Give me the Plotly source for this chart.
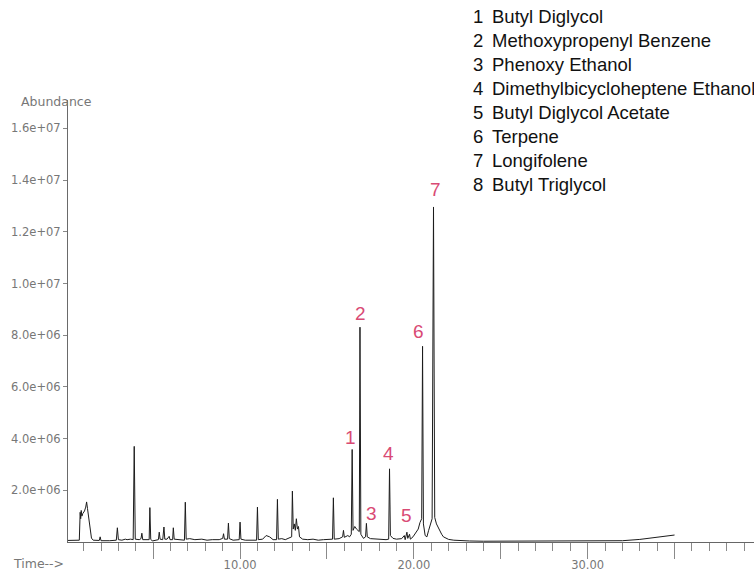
import plotly.graph_objects as go

# ---------------- data ----------------
# retention time (min) and abundance (millions of counts)
rt = [0.05, 0.5, 0.75, 0.8, 0.83, 0.86, 0.9, 0.95, 1.05, 1.12, 1.17, 1.22, 1.3, 1.38, 1.45, 1.55,
      1.9, 1.95, 2.0, 2.5, 2.88, 2.94, 3.0, 3.2, 3.4, 3.5, 3.7, 3.85, 3.91, 3.97,
      4.2, 4.3, 4.35, 4.4, 4.6, 4.77, 4.81, 4.86, 4.95, 5.1, 5.3, 5.35, 5.4, 5.55, 5.62, 5.67,
      5.8, 5.92, 5.97, 6.12, 6.16, 6.21, 6.4, 6.8, 6.85, 6.9, 7.1, 7.4, 7.8, 8.1, 8.4, 8.8,
      9.0, 9.05, 9.1, 9.28, 9.33, 9.38, 9.6, 9.95, 10.0, 10.05, 10.3, 10.6, 10.95, 11.0, 11.05,
      11.3, 11.5, 11.7, 11.9, 12.1, 12.15, 12.2, 12.4, 12.6, 12.8, 12.97, 13.01, 13.06, 13.12,
      13.18, 13.24, 13.3, 13.36, 13.42, 13.6, 13.9, 14.2, 14.5, 14.8, 15.1, 15.32, 15.37, 15.42,
      15.7, 15.9, 15.95, 16.0, 16.2, 16.3, 16.4, 16.45, 16.5, 16.6, 16.7, 16.8, 16.86, 16.9, 16.95,
      17.1, 17.22, 17.27, 17.32, 17.5, 17.8, 18.1, 18.4, 18.55, 18.6, 18.65, 18.8, 19.0, 19.3,
      19.45, 19.5, 19.6, 19.65, 19.75, 19.8, 19.95, 20.1, 20.25, 20.35, 20.45, 20.5, 20.55, 20.65,
      20.75, 20.85, 20.95, 21.05, 21.13, 21.2, 21.3, 21.4, 21.5, 21.6, 21.7, 21.85, 22.0, 22.3,
      22.7, 23.2, 24.0, 26.0, 28.0, 30.0, 32.0, 33.0, 33.8, 34.5, 35.0]
abund_m = [0.06, 0.05, 0.07, 1.15, 0.9, 1.22, 1.0, 1.1, 1.2, 1.35, 1.55, 1.3, 0.9, 0.45, 0.15, 0.07,
           0.06, 0.2, 0.05, 0.05, 0.07, 0.55, 0.09, 0.07, 0.11, 0.09, 0.11, 0.09, 3.7, 0.11,
           0.09, 0.13, 0.34, 0.09, 0.09, 0.09, 1.33, 0.11, 0.04, 0.07, 0.09, 0.38, 0.11, 0.09, 0.58, 0.11,
           0.11, 0.22, 0.09, 0.09, 0.55, 0.11, 0.09, 0.07, 1.54, 0.11, 0.13, 0.09, 0.11, 0.07, 0.09, 0.09,
           0.14, 0.32, 0.11, 0.11, 0.73, 0.13, 0.07, 0.09, 0.77, 0.11, 0.07, 0.06, 0.07, 1.35, 0.09,
           0.11, 0.25, 0.2, 0.09, 0.09, 1.65, 0.11, 0.13, 0.09, 0.14, 0.2, 1.97, 0.5, 0.7,
           0.45, 0.9, 0.5, 0.6, 0.2, 0.11, 0.09, 0.11, 0.07, 0.09, 0.11, 0.11, 1.71, 0.11,
           0.13, 0.2, 0.45, 0.18, 0.25, 0.2, 0.3, 3.58, 0.45, 0.6, 0.5, 0.45, 0.4, 8.31, 0.3,
           0.14, 0.2, 0.72, 0.2, 0.13, 0.11, 0.11, 0.09, 0.11, 2.83, 0.25, 0.14, 0.11, 0.13,
           0.25, 0.09, 0.38, 0.14, 0.3, 0.11, 0.2, 0.35, 0.5, 0.75, 0.9, 7.57, 0.7, 0.25,
           0.2, 0.45, 0.7, 0.9, 12.96, 0.95, 0.7, 0.55, 0.4, 0.3, 0.2, 0.14, 0.1, 0.07,
           0.05, 0.04, 0.03, 0.03, 0.03, 0.03, 0.05, 0.1, 0.16, 0.22, 0.27]

# labelled peaks
peak_nums = ["1", "2", "3", "4", "5", "6", "7"]
peak_rt = [16.45, 16.9, 17.27, 18.6, 19.6, 20.5, 21.13]
peak_top_m = [3.58, 8.31, 0.72, 2.83, 0.38, 7.57, 12.96]

# compound list
compound_nums = ["1", "2", "3", "4", "5", "6", "7", "8"]
compound_names = ["Butyl Diglycol", "Methoxypropenyl Benzene", "Phenoxy Ethanol",
                  "Dimethylbicycloheptene Ethanol", "Butyl Diglycol Acetate", "Terpene",
                  "Longifolene", "Butyl Triglycol"]

# axis ticks
y_tickvals_m = [2, 4, 6, 8, 10, 12, 14, 16]
y_ticktext = ["2.0e+06", "4.0e+06", "6.0e+06", "8.0e+06", "1.0e+07", "1.2e+07", "1.4e+07", "1.6e+07"]
x_major = [5, 10, 15, 20, 25, 30, 35]
x_major_text = ["", "10.00", "", "20.00", "", "30.00", ""]

# ---------------- layout geometry ----------------
W, H = 754, 573
L, R, T, B = 68, 0, 100, 31
PW, PH = W - L - R, H - T - B
PX_PER_MIN = 17.38
PX_PER_M = 25.85
x0 = 0.1
x1 = x0 + PW / PX_PER_MIN
y1 = PH / PX_PER_M * 1e6


def paper_x(px):
    return (px - L) / PW


def paper_y(py):
    return (H - B - py) / PH


GRAY = "#777777"
TICKFONT = dict(family="DejaVu Sans", size=11.5, color=GRAY)

fig = go.Figure()
fig.add_trace(go.Scatter(
    x=rt, y=[v * 1e6 for v in abund_m], mode="lines",
    line=dict(color="#1c1c1c", width=1), hoverinfo="skip", showlegend=False))

fig.update_layout(
    width=W, height=H, margin=dict(l=L, r=R, t=T, b=B),
    paper_bgcolor="white", plot_bgcolor="white", showlegend=False,
    xaxis=dict(range=[x0, x1], showgrid=False, zeroline=False,
               showline=True, linecolor="#666666", linewidth=1,
               tickmode="array", tickvals=x_major, ticktext=x_major_text,
               ticks="outside", ticklen=16, tickwidth=1, tickcolor="#8a8a8a",
               ticklabelstandoff=-4,
               tickfont=TICKFONT,
               minor=dict(tickmode="linear", tick0=0, dtick=1, ticks="outside",
                          ticklen=8, tickwidth=1, tickcolor="#8a8a8a")),
    yaxis=dict(range=[0, y1], showgrid=False, zeroline=False,
               showline=True, linecolor="#6a6a6a", linewidth=1,
               tickmode="array", tickvals=[v * 1e6 for v in y_tickvals_m], ticktext=y_ticktext,
               ticks="outside", ticklen=4, tickwidth=1, tickcolor="#888888",
               tickfont=TICKFONT),
)

annotations = []
# axis captions
annotations.append(dict(text="Abundance", xref="paper", yref="paper",
                        x=paper_x(56.5), y=paper_y(101.5), xanchor="center", yanchor="middle",
                        showarrow=False, font=dict(family="DejaVu Sans", size=12.5, color=GRAY)))
annotations.append(dict(text="Time-->", xref="paper", yref="paper",
                        x=paper_x(38), y=paper_y(563), xanchor="center", yanchor="middle",
                        showarrow=False, font=dict(family="DejaVu Sans", size=12.5, color=GRAY)))

# peak numbers
label_offsets = [(-2, 11.5), (1, 14), (4.6, 9.4), (-1.5, 15.8), (0, 17), (-3.6, 15.3), (1.5, 17)]
for num, t, h, (dx, dy) in zip(peak_nums, peak_rt, peak_top_m, label_offsets):
    annotations.append(dict(text=num, x=t, y=h * 1e6, xref="x", yref="y",
                            xanchor="center", yanchor="middle", xshift=dx, yshift=dy,
                            showarrow=False,
                            font=dict(family="Liberation Sans", size=19, color="#d94a74")))

# compound list
for i, (num, name) in enumerate(zip(compound_nums, compound_names)):
    yc = 16.7 + i * 23.95
    annotations.append(dict(text=num, xref="paper", yref="paper",
                            x=paper_x(470.5), y=paper_y(yc), xanchor="left", yanchor="middle",
                            showarrow=False,
                            font=dict(family="Liberation Sans", size=18.5, color="#111111")))
    annotations.append(dict(text=name, xref="paper", yref="paper",
                            x=paper_x(489.5), y=paper_y(yc), xanchor="left", yanchor="middle",
                            showarrow=False,
                            font=dict(family="Liberation Sans", size=18.5, color="#111111")))

fig.update_layout(annotations=annotations)
fig.write_html("out.html")
